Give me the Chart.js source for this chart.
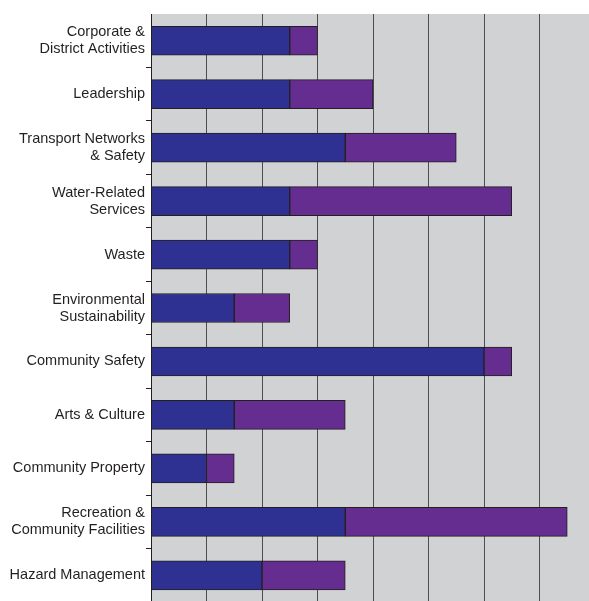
<!DOCTYPE html>
<html>
<head>
<meta charset="utf-8">
<script src="https://cdn.jsdelivr.net/npm/chart.js@4/dist/chart.umd.min.js"></script>
<style>
  html, body { margin: 0; padding: 0; background: #ffffff; overflow: hidden; }
  #wrap { position: absolute; left: 0; top: 0; width: 595px; height: 620px; }
</style>
</head>
<body>
<div id="wrap"><canvas id="c"></canvas></div>
<script>
// Activity groups, top to bottom
const categories = [
  ['Corporate &', 'District Activities'],
  'Leadership',
  ['Transport Networks', '& Safety'],
  ['Water-Related', 'Services'],
  'Waste',
  ['Environmental', 'Sustainability'],
  'Community Safety',
  'Arts & Culture',
  'Community Property',
  ['Recreation &', 'Community Facilities'],
  'Hazard Management'
];

// First (blue) segment of each bar
const baseValues = [2.5, 2.5, 3.5, 2.5, 2.5, 1.5, 6, 1.5, 1, 3.5, 2];
// Second (purple) segment stacked after it
const addedValues = [0.5, 1.5, 2, 4, 0.5, 1, 0.5, 2, 0.5, 4, 1.5];

// Grey fill behind the plotting area
const plotBackground = {
  id: 'plotBackground',
  beforeDraw(chart) {
    const { ctx, chartArea: a } = chart;
    ctx.save();
    ctx.fillStyle = '#d1d2d4';
    ctx.fillRect(a.left, a.top, a.right - a.left, a.bottom - a.top);
    ctx.restore();
  }
};

new Chart(document.getElementById('c'), {
  type: 'bar',
  data: {
    labels: categories,
    datasets: [
      {
        label: 'Base',
        data: baseValues,
        backgroundColor: '#2e3192',
        borderColor: '#231f20',
        borderWidth: 1,
        borderSkipped: false,
        barThickness: 29
      },
      {
        label: 'Added',
        data: addedValues,
        backgroundColor: '#662d91',
        borderColor: '#231f20',
        borderWidth: 1,
        borderSkipped: false,
        barThickness: 29
      }
    ]
  },
  options: {
    indexAxis: 'y',
    responsive: true,
    maintainAspectRatio: false,
    animation: false,
    layout: { padding: { top: 14, right: 0, bottom: 0, left: 0 } },
    plugins: {
      legend: { display: false },
      tooltip: { enabled: false }
    },
    scales: {
      x: {
        stacked: true,
        min: 0,
        max: 8,
        ticks: { display: false, stepSize: 1 },
        grid: { color: '#4d4e50', lineWidth: 1, drawTicks: false },
        border: { display: false },
        afterFit(scale) { scale.height = 0; }
      },
      y: {
        stacked: true,
        ticks: {
          color: '#231f20',
          padding: 1,
          font: { family: '"Liberation Sans", Arial, sans-serif', size: 14.5, lineHeight: 1.17 }
        },
        grid: {
          offset: true,
          drawOnChartArea: false,
          drawTicks: true,
          tickLength: 5,
          color: '#231f20',
          // no tick mark at the very top edge of the axis
          tickColor: (ctx) => (ctx.index === 0 ? 'rgba(0,0,0,0)' : '#231f20')
        },
        border: { display: true, color: '#231f20', width: 1 },
        afterFit(scale) { scale.width = 151; }
      }
    }
  },
  plugins: [plotBackground]
});
</script>
</body>
</html>
